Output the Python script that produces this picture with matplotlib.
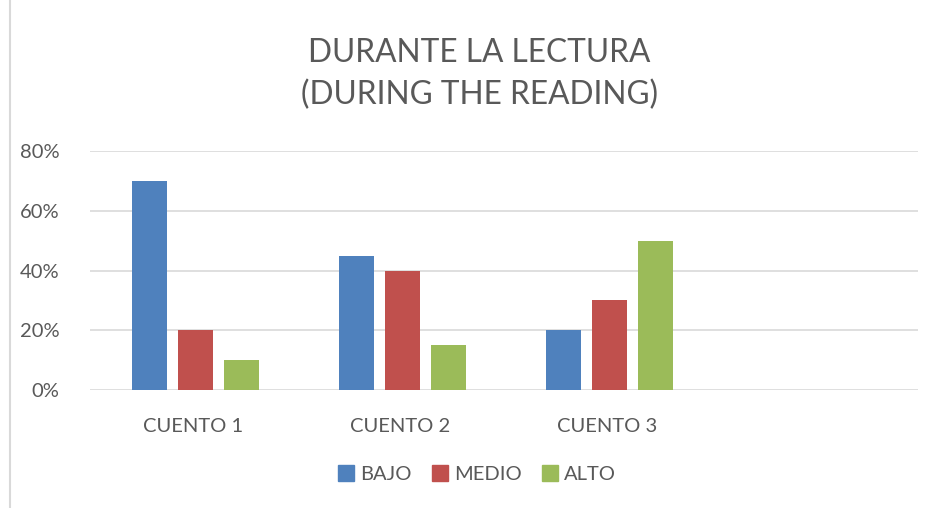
import numpy as np
import matplotlib.pyplot as plt
from matplotlib.patches import Patch
from matplotlib.lines import Line2D

# Datos del grafico
cuentos = ['CUENTO 1', 'CUENTO 2', 'CUENTO 3', '']
niveles = ['BAJO', 'MEDIO', 'ALTO']
bajo = [0.70, 0.45, 0.20]
medio = [0.20, 0.40, 0.30]
alto = [0.10, 0.15, 0.50]
colores = ['#4F81BD', '#C0504D', '#9BBB59']

plt.rcParams['font.family'] = ['Lato', 'DejaVu Sans']
gris = '#595959'

fig = plt.figure(figsize=(9.35, 5.08), dpi=100)
ax = fig.add_axes([90 / 935, 118 / 508, 828 / 935, 239 / 508])

x = np.arange(len(cuentos))
ancho = 0.172
desp = 0.222
for i, (serie, color) in enumerate(zip([bajo, medio, alto], colores)):
    ax.bar(x[:3] + 0.01 + (i - 1) * desp, serie, ancho, color=color, label=niveles[i], zorder=3)

ax.set_xlim(-0.5, 3.5)
ax.set_ylim(0, 0.8)
ax.set_yticks([0, 0.2, 0.4, 0.6, 0.8])
ax.set_yticklabels(['0%', '20%', '40%', '60%', '80%'])
ax.set_xticks(x)
ax.set_xticklabels(cuentos)
ax.tick_params(axis='both', length=0, labelsize=14.5, colors=gris)
ax.tick_params(axis='x', pad=20)
ax.tick_params(axis='y', pad=22)
ax.grid(axis='y', color='#D9D9D9', linewidth=1.2, zorder=0)
for s in ax.spines.values():
    s.set_visible(False)

fig.text(0.513, 1 - 74 / 508, 'DURANTE LA LECTURA\n(DURING THE READING)', ha='center', va='center',
         fontsize=22.8, color=gris, linespacing=1.5)

# borde izquierdo del area del grafico
fig.add_artist(Line2D([10 / 935, 10 / 935], [0, 1], color='#D9D9D9', linewidth=1.5))

handles = [Patch(color=c) for c in colores]
fig.legend(handles, niveles, loc='center', bbox_to_anchor=(0.51, 1 - 474 / 508), ncol=3,
           frameon=False, fontsize=14.5, labelcolor=gris, handlelength=0.8, handleheight=0.8,
           handletextpad=0.3, columnspacing=1.0)

fig.savefig('out.png', dpi=100, facecolor='white')
